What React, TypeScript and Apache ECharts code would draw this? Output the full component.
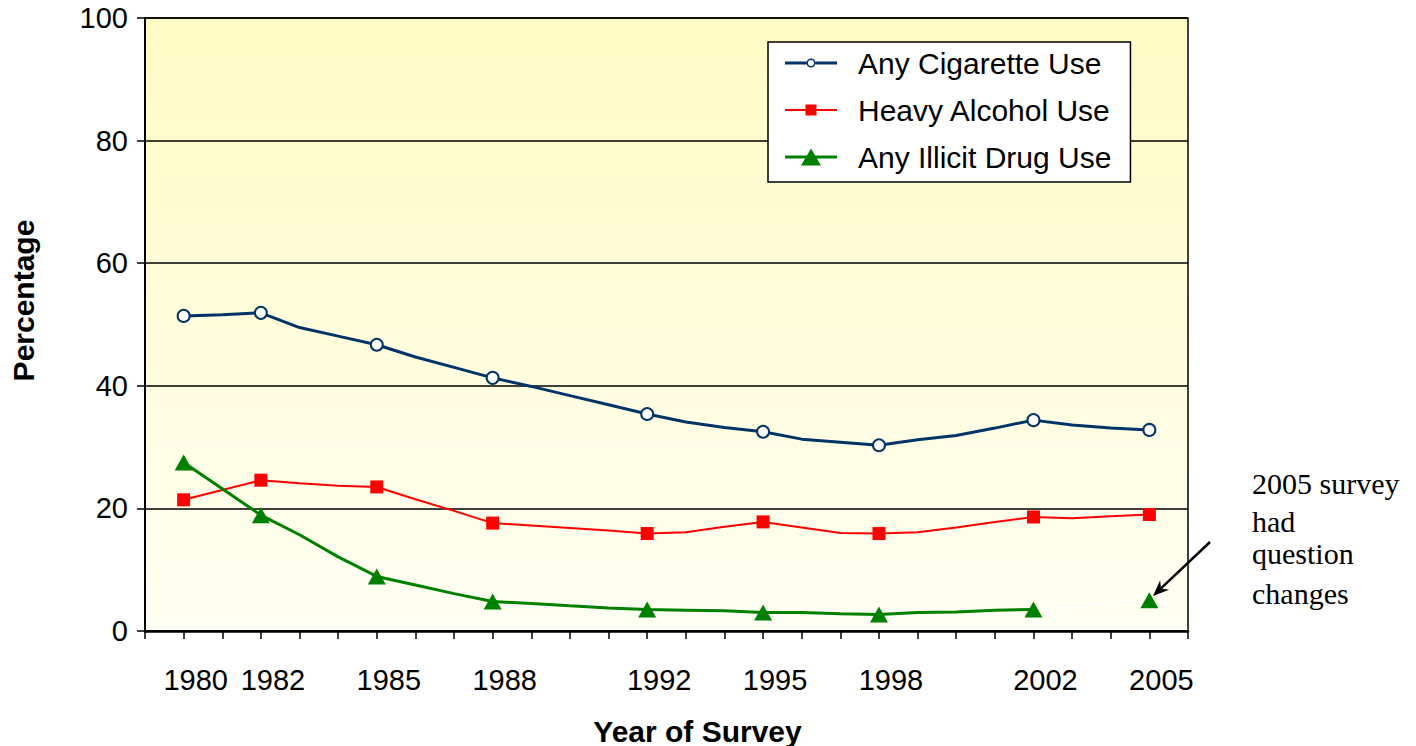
import React, { useEffect, useRef } from "react";
import * as echarts from "echarts";

const years = [1980, 1981, 1982, 1983, 1984, 1985, 1986, 1987, 1988, 1989, 1990, 1991, 1992, 1993, 1994, 1995, 1996, 1997, 1998, 1999, 2000, 2001, 2002, 2003, 2004, 2005];
const markerYears = [1980, 1982, 1985, 1988, 1992, 1995, 1998, 2002, 2005];
const labelYears = [1980, 1982, 1985, 1988, 1992, 1995, 1998, 2002, 2005];

const cigarette = [51.4, 51.6, 51.9, 49.5, 48.1, 46.7, 44.7, 43.0, 41.3, 39.9, 38.4, 36.9, 35.4, 34.1, 33.2, 32.5, 31.3, 30.8, 30.3, 31.2, 31.9, 33.1, 34.4, 33.6, 33.1, 32.8];
const alcohol = [21.4, 23.0, 24.6, 24.1, 23.7, 23.5, 21.5, 19.6, 17.6, 17.2, 16.8, 16.4, 15.9, 16.1, 17.0, 17.8, 16.9, 16.0, 15.9, 16.1, 16.9, 17.8, 18.6, 18.4, 18.7, 19.0];
const drug: (number | null)[] = [27.5, 23.2, 18.9, 15.7, 12.1, 8.9, 7.5, 6.1, 4.8, 4.5, 4.1, 3.75, 3.5, 3.4, 3.3, 3.0, 3.0, 2.8, 2.7, 3.0, 3.1, 3.4, 3.5, null, null, 5.0];

const seriesNames = ["Any Cigarette Use", "Heavy Alcohol Use", "Any Illicit Drug Use"];
const noteLines = ["2005 survey", "had", "question", "changes"];
const xTitle = "Year of Survey";
const yTitle = "Percentage";

const SANS = '"Liberation Sans", Arial, sans-serif';
const SERIF = '"Liberation Serif", "Times New Roman", serif';

// legend icons (line + marker), drawn in a 52 x 20 box
const ICON_CIG =
  "path://M0,8.5 L21.5,8.5 L21.5,11.5 L0,11.5 Z M30.5,8.5 L52,8.5 L52,11.5 L30.5,11.5 Z " +
  "M30.5,10 A4.5,4.5 0 1,0 21.5,10 A4.5,4.5 0 1,0 30.5,10 Z M29,10 A3,3 0 1,1 23,10 A3,3 0 1,1 29,10 Z";
const ICON_ALC = "path://M0,9 L52,9 L52,11 L0,11 Z M20.5,4.5 L31.5,4.5 L31.5,15.5 L20.5,15.5 Z";
const ICON_DRUG = "path://M0,8.5 L52,8.5 L52,11.5 L0,11.5 Z M26,1.5 L36,18.5 L16,18.5 Z";

function buildData(values: (number | null)[]) {
  return years.map((y, i) => {
    const v = values[i];
    const item: any = { value: [y, v == null ? "-" : v] };
    if (!markerYears.includes(y)) item.symbol = "none";
    return item;
  });
}

export default function App() {
  const ref = useRef<HTMLDivElement>(null);
  useEffect(() => {
    if (!ref.current) return;
    const chart = echarts.init(ref.current, null, { renderer: "svg" });
    const i2002 = years.indexOf(2002);
    const i2005 = years.indexOf(2005);
    const noteY = [483, 521, 553, 593];

    const tip = [1153, 596];
    const start = [1210, 542];
    const dx = tip[0] - start[0];
    const dy = tip[1] - start[1];
    const len = Math.sqrt(dx * dx + dy * dy);
    const ux = dx / len, uy = dy / len;
    const px = -uy, py = ux;
    const back = 16, half = 6.5, notch = 11;
    const bx = tip[0] - back * ux, by = tip[1] - back * uy;
    const nx = tip[0] - notch * ux, ny = tip[1] - notch * uy;

    chart.setOption({
      animation: false,
      backgroundColor: "#ffffff",
      grid: {
        left: 145,
        top: 18,
        right: 228,
        bottom: 115,
        show: true,
        borderColor: "#000",
        borderWidth: 1.5,
        backgroundColor: {
          type: "linear",
          x: 0, y: 0, x2: 0, y2: 1,
          colorStops: [
            { offset: 0, color: "#FFFBC4" },
            { offset: 1, color: "#FFFFF3" },
          ],
        },
      },
      xAxis: {
        type: "value",
        min: 1979,
        max: 2006,
        interval: 1,
        splitLine: { show: false },
        axisLine: { show: true, onZero: false, lineStyle: { color: "#000", width: 2.5 } },
        axisTick: { show: true, inside: false, length: 8, lineStyle: { color: "#000", width: 1.5 } },
        axisLabel: {
          margin: 34,
          fontSize: 29,
          color: "#000",
          fontFamily: SANS,
          padding: [0, 0, 0, 24],
          formatter: (v: number) => (labelYears.includes(v) ? String(v) : ""),
        },
      },
      yAxis: {
        type: "value",
        min: 0,
        max: 100,
        interval: 20,
        splitLine: { show: true, lineStyle: { color: "#000", width: 1.5 } },
        axisLine: { show: true, lineStyle: { color: "#000", width: 2 } },
        axisTick: { show: true, inside: false, length: 8, lineStyle: { color: "#000", width: 1.5 } },
        axisLabel: {
          margin: 17,
          fontSize: 29,
          color: "#000",
          fontFamily: SANS,
          padding: [6, 0, 0, 0],
        },
      },
      legend: {
        orient: "vertical",
        left: 768,
        top: 42,
        data: [
          { name: seriesNames[0], icon: ICON_CIG },
          { name: seriesNames[1], icon: ICON_ALC },
          { name: seriesNames[2], icon: ICON_DRUG },
        ],
        selectedMode: false,
        backgroundColor: "#ffffff",
        borderColor: "#000",
        borderWidth: 1.5,
        padding: [6, 19, 10, 17],
        itemGap: 17,
        itemWidth: 52,
        itemHeight: 20,
        textStyle: { fontSize: 30, color: "#000", fontFamily: SANS, padding: [0, 0, 0, 16] },
      },
      series: [
        {
          name: seriesNames[0],
          type: "line",
          data: buildData(cigarette),
          showAllSymbol: true,
          symbol: "emptyCircle",
          symbolSize: 12,
          color: "#003366",
          itemStyle: { color: "#003366", borderWidth: 2 },
          lineStyle: { color: "#003366", width: 3 },
          z: 3,
        },
        {
          name: seriesNames[1],
          type: "line",
          data: buildData(alcohol),
          showAllSymbol: true,
          symbol: "rect",
          symbolSize: 13,
          color: "#FF0000",
          itemStyle: { color: "#FF0000" },
          lineStyle: { color: "#FF0000", width: 2 },
          z: 4,
        },
        {
          name: "bridge",
          type: "line",
          data: [
            [2002, drug[i2002]],
            [2005, drug[i2005]],
          ],
          symbol: "none",
          silent: true,
          lineStyle: { color: "#FFFFFF", width: 1.5 },
          z: 4,
        },
        {
          name: seriesNames[2],
          type: "line",
          data: buildData(drug),
          connectNulls: false,
          showAllSymbol: true,
          symbol: "triangle",
          symbolSize: [18, 16],
          color: "#008000",
          itemStyle: { color: "#008000" },
          lineStyle: { color: "#008000", width: 3 },
          z: 5,
        },
      ],
      graphic: [
        {
          type: "text",
          x: 23.5,
          y: 300.5,
          rotation: Math.PI / 2,
          style: {
            text: yTitle,
            fill: "#000",
            font: `bold 30px ${SANS}`,
            align: "center",
            verticalAlign: "middle",
          },
        },
        {
          type: "text",
          x: 697.5,
          y: 731,
          style: {
            text: xTitle,
            fill: "#000",
            font: `bold 30px ${SANS}`,
            align: "center",
            verticalAlign: "middle",
          },
        },
        ...noteLines.map((t, i) => ({
          type: "text",
          x: 1252,
          y: noteY[i],
          style: {
            text: t,
            fill: "#000",
            font: `30px ${SERIF}`,
            align: "left",
            verticalAlign: "middle",
          },
        })),
        {
          type: "line",
          shape: { x1: start[0], y1: start[1], x2: nx, y2: ny },
          style: { stroke: "#000", lineWidth: 2.5 },
        },
        {
          type: "polygon",
          shape: {
            points: [
              [tip[0], tip[1]],
              [bx + half * px, by + half * py],
              [nx, ny],
              [bx - half * px, by - half * py],
            ],
          },
          style: { fill: "#000" },
        },
      ],
    });
    return () => chart.dispose();
  }, []);
  return <div ref={ref} style={{ position: "fixed", left: 0, top: 0, width: 1416, height: 746 }} />;
}
